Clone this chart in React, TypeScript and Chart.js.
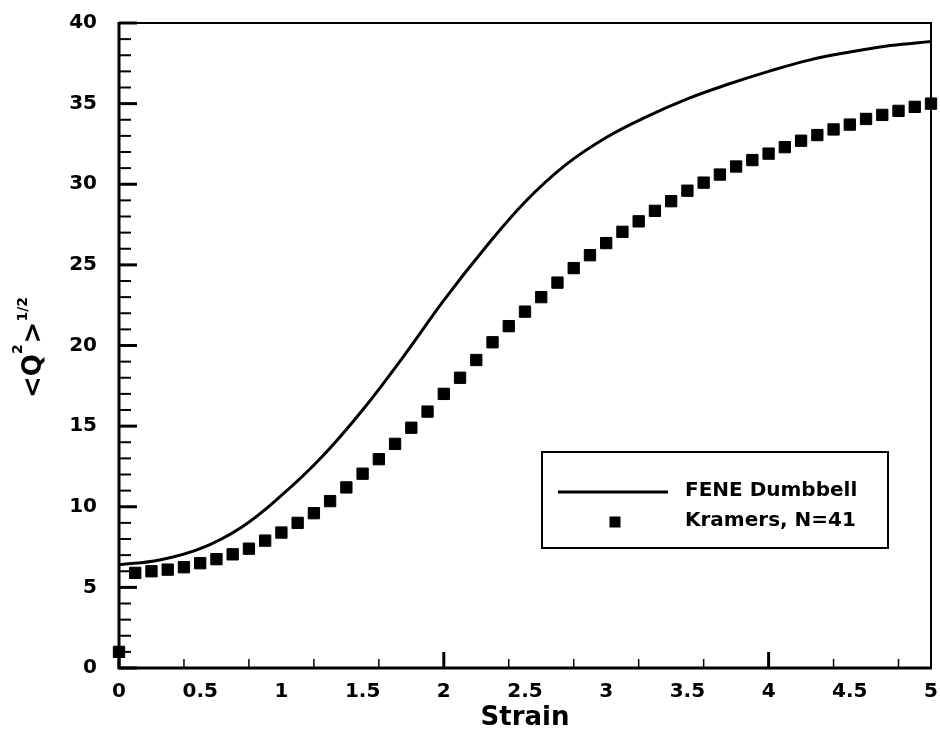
import React, { useEffect, useRef } from 'react';
import { Chart, registerables } from 'chart.js';

Chart.register(...registerables);

const FONT = "'DejaVu Sans', 'Liberation Sans', sans-serif";

// ---- data ----
const feneStrain = [0, 0.25, 0.5, 0.75, 1, 1.25, 1.5, 1.75, 2, 2.25, 2.5, 2.75, 3, 3.25, 3.5, 3.75, 4, 4.25, 4.5, 4.75, 5];
const feneQ = [6.4, 6.7, 7.4, 8.7, 10.7, 13.1, 16.0, 19.3, 22.8, 26.0, 28.9, 31.2, 32.9, 34.2, 35.3, 36.2, 37.0, 37.7, 38.2, 38.6, 38.85];

const kramersStrain = [
  0, 0.1, 0.2, 0.3, 0.4, 0.5, 0.6, 0.7, 0.8, 0.9,
  1, 1.1, 1.2, 1.3, 1.4, 1.5, 1.6, 1.7, 1.8, 1.9,
  2, 2.1, 2.2, 2.3, 2.4, 2.5, 2.6, 2.7, 2.8, 2.9,
  3, 3.1, 3.2, 3.3, 3.4, 3.5, 3.6, 3.7, 3.8, 3.9,
  4, 4.1, 4.2, 4.3, 4.4, 4.5, 4.6, 4.7, 4.8, 4.9, 5,
];
const kramersQ = [
  1.0, 5.9, 6.0, 6.1, 6.25, 6.5, 6.75, 7.05, 7.4, 7.9,
  8.4, 9.0, 9.6, 10.35, 11.2, 12.05, 12.95, 13.9, 14.9, 15.9,
  17.0, 18.0, 19.1, 20.2, 21.2, 22.1, 23.0, 23.9, 24.8, 25.6,
  26.35, 27.05, 27.7, 28.35, 28.95, 29.6, 30.1, 30.6, 31.1, 31.5,
  31.9, 32.3, 32.7, 33.05, 33.4, 33.7, 34.05, 34.3, 34.55, 34.8, 35.0,
];

const seriesLabels = ['FENE Dumbbell', 'Kramers, N=41'];
const xTitle = 'Strain';
const xTickLabels = [0, 0.5, 1, 1.5, 2, 2.5, 3, 3.5, 4, 4.5, 5];
const yTickLabels = [0, 5, 10, 15, 20, 25, 30, 35, 40];
const xMajorTicks = [0, 2, 4];
const xMinorTicks = [0.4, 0.8, 1.2, 1.6, 2.4, 2.8, 3.2, 3.6, 4.4, 4.8];
const yMajorTicks = [0, 5, 10, 15, 20, 25, 30, 35, 40];
const yMinorTicks = [
  1, 2, 3, 4, 6, 7, 8, 9, 11, 12, 13, 14, 16, 17, 18, 19,
  21, 22, 23, 24, 26, 27, 28, 29, 31, 32, 33, 34, 36, 37, 38, 39,
];

// ---- plugins ----
const framePlugin = {
  id: 'frameTicks',
  beforeDatasetsDraw(chart: any) {
    const { ctx, chartArea: a, scales } = chart;
    const xs = scales.x;
    const ys = scales.y;
    ctx.save();
    ctx.strokeStyle = '#000';
    ctx.lineCap = 'butt';
    yMinorTicks.forEach((v) => {
      const y = ys.getPixelForValue(v);
      ctx.lineWidth = 2;
      ctx.beginPath();
      ctx.moveTo(a.left, y);
      ctx.lineTo(a.left + 12, y);
      ctx.stroke();
    });
    yMajorTicks.forEach((v) => {
      const y = ys.getPixelForValue(v);
      ctx.lineWidth = 3;
      ctx.beginPath();
      ctx.moveTo(a.left, y);
      ctx.lineTo(a.left + 18, y);
      ctx.stroke();
    });
    xMinorTicks.forEach((v) => {
      const x = xs.getPixelForValue(v);
      ctx.lineWidth = 1.5;
      ctx.beginPath();
      ctx.moveTo(x, a.bottom);
      ctx.lineTo(x, a.bottom - 9);
      ctx.stroke();
    });
    xMajorTicks.forEach((v) => {
      const x = xs.getPixelForValue(v);
      ctx.lineWidth = 3;
      ctx.beginPath();
      ctx.moveTo(x, a.bottom);
      ctx.lineTo(x, a.bottom - 16);
      ctx.stroke();
    });
    ctx.lineWidth = 2;
    ctx.beginPath();
    ctx.moveTo(a.left, a.top);
    ctx.lineTo(a.right, a.top);
    ctx.lineTo(a.right, a.bottom);
    ctx.stroke();
    ctx.lineWidth = 3;
    ctx.beginPath();
    ctx.moveTo(a.left, a.top - 1);
    ctx.lineTo(a.left, a.bottom);
    ctx.lineTo(a.right + 1, a.bottom);
    ctx.stroke();
    ctx.restore();
  },
};

const legendPlugin = {
  id: 'boxLegend',
  afterDraw(chart: any) {
    const { ctx } = chart;
    const ds = chart.data.datasets;
    ctx.save();
    ctx.fillStyle = '#fff';
    ctx.fillRect(542, 452, 346, 96);
    ctx.strokeStyle = '#000';
    ctx.lineWidth = 2;
    ctx.strokeRect(542, 452, 346, 96);
    ctx.lineWidth = ds[0].borderWidth;
    ctx.strokeStyle = ds[0].borderColor;
    ctx.beginPath();
    ctx.moveTo(558, 492);
    ctx.lineTo(668, 492);
    ctx.stroke();
    ctx.fillStyle = ds[1].backgroundColor;
    ctx.fillRect(615 - 5.5, 522 - 5.5, 11, 11);
    ctx.fillStyle = '#000';
    ctx.font = `bold 20px ${FONT}`;
    ctx.textAlign = 'left';
    ctx.textBaseline = 'middle';
    ctx.fillText(ds[0].label, 685, 491);
    ctx.fillText(ds[1].label, 685, 521);
    ctx.restore();
  },
};

const yTitlePlugin = {
  id: 'yTitleSup',
  afterDraw(chart: any) {
    const { ctx } = chart;
    const big = `bold 26px ${FONT}`;
    const small = `bold 14px ${FONT}`;
    const parts = [
      { t: '<Q', f: big, dy: 0 },
      { t: '2', f: small, dy: -19 },
      { t: '>', f: big, dy: 0 },
      { t: '1/2', f: small, dy: -14 },
    ];
    ctx.save();
    let total = 0;
    const widths = parts.map((p) => {
      ctx.font = p.f;
      const w = ctx.measureText(p.t).width;
      total += w;
      return w;
    });
    ctx.translate(41, 348);
    ctx.rotate(-Math.PI / 2);
    ctx.fillStyle = '#000';
    ctx.textAlign = 'left';
    ctx.textBaseline = 'alphabetic';
    let x = -total / 2;
    parts.forEach((p, i) => {
      ctx.font = p.f;
      ctx.fillText(p.t, x, p.dy);
      x += widths[i] + (i === 1 ? 1 : 0);
    });
    ctx.restore();
  },
};

export default function App() {
  const ref = useRef<HTMLCanvasElement>(null);

  useEffect(() => {
    if (!ref.current) return;
    const tickFont = { family: FONT, size: 20, weight: 'bold' as const };
    const chart = new Chart(ref.current, {
      type: 'scatter',
      data: {
        datasets: [
          {
            label: seriesLabels[0],
            data: feneStrain.map((x, i) => ({ x, y: feneQ[i] })),
            showLine: true,
            borderColor: '#000',
            backgroundColor: '#000',
            borderWidth: 3,
            pointRadius: 0,
            tension: 0.4,
            order: 2,
          },
          {
            label: seriesLabels[1],
            data: kramersStrain.map((x, i) => ({ x, y: kramersQ[i] })),
            showLine: false,
            pointStyle: 'rect',
            pointRadius: 8,
            pointBorderWidth: 1,
            borderColor: '#000',
            backgroundColor: '#000',
            clip: false,
            order: 1,
          },
        ],
      },
      options: {
        responsive: false,
        animation: false,
        layout: { padding: { top: 23, right: 8, left: 0, bottom: 0 } },
        plugins: { legend: { display: false }, tooltip: { enabled: false } },
        scales: {
          x: {
            type: 'linear',
            min: 0,
            max: 5,
            afterBuildTicks: (s: any) => {
              s.ticks = xTickLabels.map((v) => ({ value: v }));
            },
            afterFit: (s: any) => {
              s.height = 72;
              s.paddingLeft = 0;
              s.paddingRight = 0;
            },
            grid: { display: false, drawTicks: false },
            border: { display: false },
            ticks: {
              color: '#000',
              font: tickFont,
              padding: 12,
              maxRotation: 0,
              autoSkip: false,
              callback: (v: any) => String(v),
            },
            title: {
              display: true,
              text: xTitle,
              color: '#000',
              font: { family: FONT, size: 26, weight: 'bold' },
              padding: { top: 0, bottom: 6 },
            },
          },
          y: {
            type: 'linear',
            min: 0,
            max: 40,
            afterBuildTicks: (s: any) => {
              s.ticks = yTickLabels.map((v) => ({ value: v }));
            },
            afterFit: (s: any) => {
              s.width = 119;
              s.paddingTop = 0;
              s.paddingBottom = 0;
            },
            grid: { display: false, drawTicks: false },
            border: { display: false },
            ticks: {
              color: '#000',
              font: tickFont,
              padding: 22,
              autoSkip: false,
              callback: (v: any) => String(v),
            },
            title: { display: false },
          },
        },
      },
      plugins: [framePlugin, legendPlugin, yTitlePlugin],
    } as any);
    return () => chart.destroy();
  }, []);

  return (
    <div style={{ position: 'absolute', left: 0, top: 0, width: 940, height: 740, background: '#fff' }}>
      <canvas ref={ref} width={940} height={740} style={{ display: 'block' }} />
    </div>
  );
}
